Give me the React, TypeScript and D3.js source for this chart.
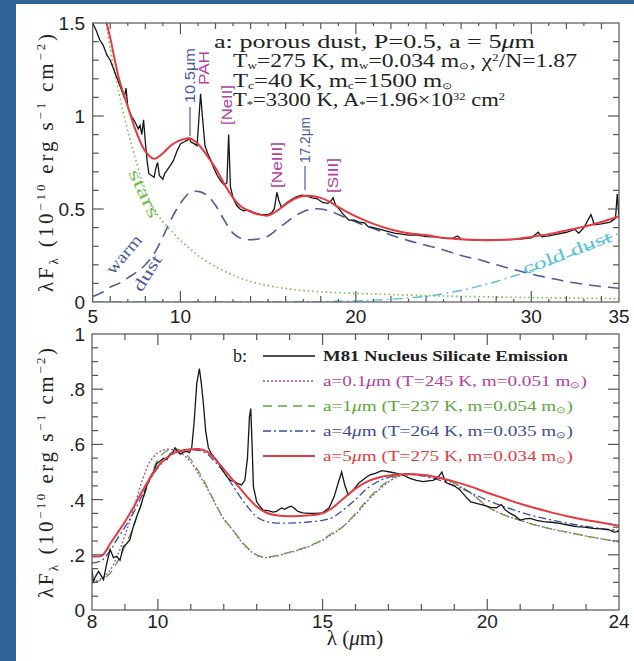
import React from 'react';
import * as d3 from 'd3';

// ---------- tick labels ----------
const topXTickValues = [5, 10, 20, 30, 35];
const topYTickValues = [0, 0.5, 1, 1.5];
const topYTickLabels = ['0', '0.5', '1', '1.5'];
const botXTickValues = [8, 10, 15, 20, 24];
const botYTickValues = [0, 0.2, 0.4, 0.6, 0.8, 1];
const botYTickLabels = ['0', '.2', '.4', '.6', '.8', '1'];

// ---------- panel a: observed spectrum ----------
const aObsLam = [5.0, 5.2, 5.4, 5.6, 5.8, 6.0, 6.2, 6.4, 6.6, 6.8, 6.9, 7.0, 7.2, 7.4, 7.6, 7.7, 7.8, 7.9, 8.0, 8.1, 8.2, 8.35, 8.5, 8.6, 8.7, 8.8, 9.0, 9.1, 9.25, 9.4, 9.6, 9.8, 10.0, 10.2, 10.4, 10.5, 10.6, 10.8, 10.95, 11.05, 11.15, 11.25, 11.4, 11.55, 11.7, 11.9, 12.1, 12.3, 12.5, 12.65, 12.75, 12.85, 13.0, 13.2, 13.4, 13.6, 13.8, 14.0, 14.2, 14.4, 14.6, 14.8, 15.0, 15.2, 15.35, 15.5, 15.6, 15.75, 16.0, 16.3, 16.6, 16.9, 17.2, 17.5, 17.8, 18.1, 18.4, 18.6, 18.7, 18.85, 19.0, 19.3, 19.6, 19.9, 20.2, 20.5, 20.7, 21.0, 21.4, 21.8, 22.2, 22.6, 23.0, 23.5, 24.0, 24.5, 25.0, 25.5, 25.8, 26.0, 26.5, 27.0, 27.5, 28.0, 28.5, 29.0, 29.5, 30.0, 30.4, 30.6, 31.0, 31.5, 32.0, 32.5, 32.7, 33.0, 33.4, 33.6, 34.0, 34.5, 34.8, 34.9, 35.0];
const aObsFlux = [1.5, 1.46, 1.41, 1.38, 1.33, 1.3, 1.25, 1.2, 1.15, 1.1, 1.15, 1.05, 1.0, 0.97, 0.93, 0.95, 0.9, 0.98, 0.86, 0.76, 0.69, 0.68, 0.67, 0.72, 0.75, 0.68, 0.66, 0.69, 0.71, 0.73, 0.76, 0.81, 0.85, 0.86, 0.87, 0.88, 0.86, 0.85, 0.84, 0.98, 1.12, 1.0, 0.84, 0.8, 0.77, 0.72, 0.68, 0.65, 0.63, 0.64, 0.9, 0.62, 0.56, 0.52, 0.5, 0.49, 0.495, 0.49, 0.48, 0.475, 0.47, 0.47, 0.47, 0.48, 0.5, 0.59, 0.55, 0.51, 0.53, 0.55, 0.565, 0.575, 0.57, 0.56, 0.555, 0.535, 0.53, 0.545, 0.56, 0.52, 0.505, 0.47, 0.44, 0.44, 0.43, 0.425, 0.405, 0.4, 0.39, 0.38, 0.37, 0.365, 0.36, 0.36, 0.352, 0.35, 0.343, 0.342, 0.355, 0.337, 0.335, 0.333, 0.333, 0.333, 0.335, 0.337, 0.34, 0.345, 0.375, 0.35, 0.355, 0.365, 0.375, 0.39, 0.37, 0.4, 0.47, 0.415, 0.42, 0.43, 0.45, 0.58, 0.46];

// ---------- panel a: total model ----------
const aFitLam = [5.0, 5.5, 5.8, 6.0, 6.5, 7.0, 7.5, 8.0, 8.5, 9.0, 9.5, 10.0, 10.5, 11.0, 11.5, 12.0, 12.5, 13.0, 13.5, 14.0, 14.5, 15.0, 15.5, 16.0, 16.5, 17.0, 17.5, 18.0, 18.5, 19.0, 19.5, 20.0, 21.0, 22.0, 23.0, 24.0, 25.0, 26.0, 27.0, 28.0, 29.0, 30.0, 31.0, 32.0, 33.0, 34.0, 35.0];
const aFitFlux = [1.95, 1.7, 1.5, 1.42, 1.2, 1.05, 0.91, 0.81, 0.77, 0.8, 0.845, 0.87, 0.88, 0.85, 0.79, 0.72, 0.635, 0.56, 0.51, 0.485, 0.47, 0.465, 0.49, 0.525, 0.555, 0.57, 0.57, 0.56, 0.54, 0.51, 0.485, 0.46, 0.42, 0.39, 0.37, 0.36, 0.345, 0.337, 0.333, 0.333, 0.337, 0.35, 0.365, 0.385, 0.405, 0.43, 0.46];

// ---------- panel a: stars ----------
const aStarLam = [5.0, 5.5, 6.0, 6.5, 7.0, 7.5, 8.0, 8.5, 9.0, 9.5, 10.0, 10.5, 11.0, 12.0, 13.0, 14.0, 15.0, 16.0, 17.0, 18.0, 20.0, 22.0, 25.0, 30.0, 35.0];
const aStarFlux = [2.0, 1.68, 1.36, 1.12, 0.92, 0.75, 0.6, 0.5, 0.43, 0.38, 0.33, 0.29, 0.25, 0.19, 0.145, 0.11, 0.088, 0.072, 0.062, 0.055, 0.046, 0.04, 0.032, 0.024, 0.018];

// ---------- panel a: warm dust ----------
const aWarmLam = [5.0, 5.5, 6.0, 6.5, 7.0, 7.5, 8.0, 8.5, 9.0, 9.5, 10.0, 10.5, 11.0, 11.5, 12.0, 12.5, 13.0, 13.5, 14.0, 14.5, 15.0, 15.5, 16.0, 16.5, 17.0, 17.5, 18.0, 18.5, 19.0, 20.0, 21.0, 22.0, 23.0, 24.0, 25.0, 26.0, 27.0, 28.0, 29.0, 30.0, 31.0, 32.0, 33.0, 34.0, 35.0];
const aWarmFlux = [0.03, 0.05, 0.08, 0.1, 0.13, 0.16, 0.2, 0.26, 0.35, 0.45, 0.53, 0.585, 0.595, 0.575, 0.52, 0.44, 0.37, 0.34, 0.335, 0.34, 0.355, 0.39, 0.425, 0.46, 0.485, 0.5, 0.5, 0.49, 0.47, 0.43, 0.395, 0.36, 0.33, 0.305, 0.28, 0.25, 0.228, 0.2, 0.175, 0.15, 0.13, 0.11, 0.095, 0.083, 0.074];

// ---------- panel a: cold dust ----------
const aColdLam = [5.0, 10.0, 15.0, 18.0, 19.0, 20.0, 21.0, 22.0, 23.0, 24.0, 25.0, 26.0, 27.0, 28.0, 29.0, 30.0, 31.0, 32.0, 33.0, 34.0, 35.0];
const aColdFlux = [0.0, 0.0, 0.001, 0.002, 0.004, 0.006, 0.01, 0.015, 0.022, 0.03, 0.045, 0.062, 0.085, 0.11, 0.14, 0.17, 0.2, 0.24, 0.28, 0.325, 0.37];

// ---------- panel b: observed ----------
const bObsLam = [8.0, 8.04, 8.1, 8.2, 8.3, 8.35, 8.45, 8.55, 8.65, 8.75, 8.85, 8.95, 9.05, 9.15, 9.25, 9.36, 9.46, 9.56, 9.66, 9.76, 9.86, 9.96, 10.07, 10.17, 10.27, 10.37, 10.45, 10.52, 10.6, 10.68, 10.78, 10.88, 10.96, 11.03, 11.1, 11.18, 11.26, 11.32, 11.38, 11.45, 11.53, 11.6, 11.7, 11.79, 11.9, 12.0, 12.09, 12.2, 12.3, 12.4, 12.54, 12.64, 12.72, 12.78, 12.82, 12.86, 12.9, 13.0, 13.1, 13.2, 13.35, 13.5, 13.6, 13.75, 13.85, 13.95, 14.05, 14.15, 14.25, 14.4, 14.6, 14.8, 15.0, 15.2, 15.35, 15.5, 15.58, 15.68, 15.78, 15.9, 16.1, 16.3, 16.44, 16.6, 16.8, 17.05, 17.25, 17.45, 17.65, 17.85, 18.06, 18.2, 18.36, 18.5, 18.62, 18.7, 18.77, 19.0, 19.17, 19.35, 19.5, 19.7, 19.88, 20.1, 20.28, 20.43, 20.55, 20.7, 20.85, 21.0, 21.15, 21.3, 21.5, 21.7, 21.95, 22.2, 22.45, 22.7, 22.95, 23.2, 23.45, 23.7, 23.85, 24.0];
const bObsFlux = [0.15, 0.1, 0.12, 0.14, 0.12, 0.11, 0.17, 0.22, 0.19, 0.195, 0.18, 0.23, 0.24, 0.255, 0.3, 0.34, 0.37, 0.41, 0.45, 0.48, 0.5, 0.53, 0.54, 0.55, 0.545, 0.565, 0.57, 0.588, 0.575, 0.565, 0.572, 0.575, 0.57, 0.59, 0.68, 0.82, 0.875, 0.82, 0.75, 0.65, 0.59, 0.57, 0.555, 0.543, 0.52, 0.5, 0.483, 0.47, 0.467, 0.46, 0.453, 0.47, 0.55, 0.7, 0.73, 0.6, 0.447, 0.392, 0.375, 0.362, 0.36, 0.355, 0.357, 0.37, 0.365, 0.372, 0.376, 0.368, 0.357, 0.352, 0.35, 0.35, 0.352, 0.37, 0.41, 0.47, 0.5, 0.45, 0.417, 0.43, 0.46, 0.478, 0.49, 0.495, 0.505, 0.5, 0.495, 0.489, 0.477, 0.47, 0.465, 0.468, 0.47, 0.48, 0.5, 0.475, 0.46, 0.45, 0.435, 0.41, 0.392, 0.385, 0.38, 0.372, 0.37, 0.382, 0.362, 0.35, 0.34, 0.326, 0.33, 0.332, 0.325, 0.32, 0.318, 0.314, 0.308, 0.302, 0.3, 0.296, 0.294, 0.29, 0.282, 0.285];

// ---------- panel b: models ----------
const bModelLam = [8.0, 8.3, 8.55, 8.75, 9.0, 9.25, 9.5, 9.75, 10.0, 10.25, 10.5, 10.75, 11.0, 11.25, 11.5, 11.75, 12.0, 12.25, 12.5, 12.75, 13.0, 13.25, 13.5, 14.0, 14.5, 15.0, 15.3, 15.6, 16.0, 16.4, 16.8, 17.2, 17.6, 18.0, 18.5, 19.0, 19.5, 20.0, 20.5, 21.0, 21.5, 22.0, 22.5, 23.0, 23.5, 24.0];
const bA01Flux = [0.1, 0.115, 0.145, 0.19, 0.27, 0.36, 0.46, 0.535, 0.57, 0.582, 0.58, 0.565, 0.535, 0.49, 0.44, 0.383, 0.33, 0.293, 0.253, 0.22, 0.198, 0.19, 0.193, 0.208, 0.226, 0.253, 0.275, 0.3, 0.345, 0.4, 0.445, 0.478, 0.49, 0.488, 0.48, 0.458, 0.423, 0.375, 0.345, 0.325, 0.307, 0.292, 0.28, 0.268, 0.257, 0.247];
const bA1Flux = [0.097, 0.11, 0.133, 0.17, 0.23, 0.3, 0.385, 0.47, 0.545, 0.575, 0.585, 0.575, 0.545, 0.5, 0.445, 0.385, 0.33, 0.295, 0.255, 0.222, 0.2, 0.192, 0.195, 0.21, 0.228, 0.255, 0.28, 0.3, 0.35, 0.405, 0.45, 0.483, 0.493, 0.49, 0.482, 0.46, 0.425, 0.375, 0.345, 0.325, 0.307, 0.292, 0.28, 0.268, 0.257, 0.247];
const bA4Flux = [0.17, 0.18, 0.215, 0.254, 0.3, 0.35, 0.41, 0.47, 0.515, 0.548, 0.568, 0.578, 0.58, 0.578, 0.565, 0.535, 0.5, 0.455, 0.41, 0.37, 0.338, 0.322, 0.316, 0.315, 0.318, 0.325, 0.335, 0.36, 0.4, 0.445, 0.472, 0.487, 0.492, 0.486, 0.472, 0.45, 0.425, 0.398, 0.375, 0.355, 0.338, 0.325, 0.313, 0.303, 0.295, 0.288];
const bA5Flux = [0.195, 0.197, 0.24, 0.275, 0.32, 0.37, 0.425, 0.475, 0.52, 0.55, 0.57, 0.578, 0.582, 0.583, 0.573, 0.545, 0.51, 0.475, 0.44, 0.405, 0.375, 0.355, 0.345, 0.34, 0.342, 0.35, 0.37, 0.4, 0.44, 0.468, 0.483, 0.49, 0.493, 0.49, 0.48, 0.465, 0.447, 0.425, 0.405, 0.385, 0.368, 0.352, 0.338, 0.326, 0.316, 0.305];

// ---------- styling ----------
const SERIF = '"Liberation Serif", "Times New Roman", serif';
const SANS = '"Liberation Sans", Arial, sans-serif';
const BG = '#2f6296';
const FRAME = '#555';
const RED = '#e63a40';
const BLACK = '#151515';
const GREEN = '#6cbf4a';
const SLATE = '#4d5c9c';
const CYAN = '#5cbfd6';
const MAGENTA = '#b2409f';
const LBLUE = '#4a5aa0';
const LGREEN = '#5aa83c';
const LNAVY = '#3b4c9e';

const W = 634;
const H = 661;

const xA = d3.scaleLinear().domain([5, 35]).range([92.7, 619]);
const yA = d3.scaleLinear().domain([0, 1.5]).range([302, 23]);
const xB = d3.scaleLinear().domain([8, 24]).range([92, 619]);
const yB = d3.scaleLinear().domain([0, 1]).range([610, 334]);

function path(xs: number[], ys: number[], xs_: any, ys_: any, smooth: boolean) {
  const pts = xs.map((x, i) => [x, ys[i]] as [number, number]);
  const gen = d3
    .line<[number, number]>()
    .x((d) => xs_(d[0]))
    .y((d) => ys_(d[1]))
    .curve(smooth ? d3.curveCatmullRom.alpha(0.5) : d3.curveLinear);
  return gen(pts) || '';
}

type TickSpec = { v: number; len: number };

function Frame(props: { x: any; y: any; xt: TickSpec[]; yt: TickSpec[] }) {
  const { x, y, xt, yt } = props;
  const [x0, x1] = x.range();
  const [y0, y1] = y.range();
  const lines: any[] = [];
  xt.forEach((t, i) => {
    const px = x(t.v);
    lines.push(<line key={'xb' + i} x1={px} x2={px} y1={y0} y2={y0 - t.len} />);
    lines.push(<line key={'xt' + i} x1={px} x2={px} y1={y1} y2={y1 + t.len} />);
  });
  yt.forEach((t, i) => {
    const py = y(t.v);
    lines.push(<line key={'yl' + i} x1={x0} x2={x0 + t.len} y1={py} y2={py} />);
    lines.push(<line key={'yr' + i} x1={x1} x2={x1 - t.len} y1={py} y2={py} />);
  });
  return (
    <g stroke={FRAME} strokeWidth={1.2} fill="none">
      <rect x={x0} y={y1} width={x1 - x0} height={y0 - y1} />
      {lines}
    </g>
  );
}

const topXTicks: TickSpec[] = d3.range(6, 35).map((v) => ({
  v,
  len: v % 10 === 0 ? 11 : v % 2 === 0 ? 6 : 3,
}));
const topYTicks: TickSpec[] = d3.range(1, 15).map((i) => ({ v: i / 10, len: i % 5 === 0 ? 11 : 6 }));
const botXTicks: TickSpec[] = d3.range(9, 24).map((v) => ({ v, len: v % 5 === 0 ? 11 : 6 }));
const botYTicks: TickSpec[] = d3.range(1, 20).map((i) => ({ v: i / 20, len: i % 4 === 0 ? 11 : 6 }));

function YLabel({ cx, cy, len }: { cx: number; cy: number; len: number }) {
  return (
    <text
      transform={`translate(${cx},${cy}) rotate(-90)`}
      textAnchor="middle"
      fontFamily={SERIF}
      fontSize={21}
      fill="#222"
      textLength={len}
      lengthAdjust="spacing"
    >
      λF<tspan dy={5} fontSize={13}>λ</tspan>
      <tspan dy={-5}> (10</tspan>
      <tspan dy={-8} fontSize={13}>−10</tspan>
      <tspan dy={8}> erg s</tspan>
      <tspan dy={-8} fontSize={13}>−1</tspan>
      <tspan dy={8}> cm</tspan>
      <tspan dy={-8} fontSize={13}>−2</tspan>
      <tspan dy={8}>)</tspan>
    </text>
  );
}

function VLabel(props: { x: number; y: number; len: number; color: string; children: any }) {
  return (
    <text
      transform={`translate(${props.x},${props.y}) rotate(-90)`}
      fontFamily={SANS}
      fontSize={14}
      fill={props.color}
      textLength={props.len}
      lengthAdjust="spacingAndGlyphs"
    >
      {props.children}
    </text>
  );
}

function Sun() {
  return <tspan dy={2} fontSize={9}>⊙</tspan>;
}

export default function App() {
  const legendRows = [
    { color: BLACK, dash: undefined, width: 1.4 },
    { color: MAGENTA, dash: '2,2', width: 1.3 },
    { color: LGREEN, dash: '9,6', width: 1.3 },
    { color: LNAVY, dash: '8,3,2,3', width: 1.3 },
    { color: RED, dash: undefined, width: 2 },
  ];
  const legendY = [356, 381, 406, 431, 456];

  return (
    <svg width={W} height={H} style={{ position: 'absolute', left: 0, top: 0 }} xmlns="http://www.w3.org/2000/svg">
      <defs>
        <clipPath id="clipA">
          <rect x={xA.range()[0]} y={yA.range()[1]} width={xA.range()[1] - xA.range()[0]} height={yA.range()[0] - yA.range()[1]} />
        </clipPath>
        <clipPath id="clipB">
          <rect x={xB.range()[0]} y={yB.range()[1]} width={xB.range()[1] - xB.range()[0]} height={yB.range()[0] - yB.range()[1]} />
        </clipPath>
      </defs>
      <rect x={0} y={0} width={W} height={H} fill={BG} />
      <rect x={16} y={4} width={W - 16} height={H - 4} fill="#fff" />

      {/* ---------------- panel a ---------------- */}
      <g clipPath="url(#clipA)" fill="none">
        <path d={path(aColdLam, aColdFlux, xA, yA, true)} stroke={CYAN} strokeWidth={1.4} strokeDasharray="10,4,2,4" />
        <path d={path(aStarLam, aStarFlux, xA, yA, true)} stroke={GREEN} strokeWidth={1.6} strokeDasharray="1.5,3" />
        <path d={path(aWarmLam, aWarmFlux, xA, yA, true)} stroke={SLATE} strokeWidth={1.6} strokeDasharray="12,7" />
        <path d={path(aObsLam, aObsFlux, xA, yA, false)} stroke={BLACK} strokeWidth={1.3} />
        <path d={path(aFitLam, aFitFlux, xA, yA, true)} stroke={RED} strokeWidth={2} />
      </g>
      <Frame x={xA} y={yA} xt={topXTicks} yt={topYTicks} />
      <g fontFamily={SANS} fontSize={19} fill="#222">
        {topXTickValues.map((v) => (
          <text key={'ax' + v} x={xA(v)} y={323} textAnchor="middle">{v}</text>
        ))}
        {topYTickValues.map((v, i) => (
          <text key={'ay' + v} x={85} y={yA(v) + 7} textAnchor="end">{topYTickLabels[i]}</text>
        ))}
      </g>
      <YLabel cx={53} cy={163} len={258} />

      {/* annotation block */}
      <g fontFamily={SERIF} fontSize={18} fill="#222">
        <text x={214} y={48} textLength={321} lengthAdjust="spacingAndGlyphs">
          a: porous dust, P=0.5, a = 5<tspan fontStyle="italic">μ</tspan>m
        </text>
        <text x={233} y={67} textLength={344} lengthAdjust="spacingAndGlyphs">
          T<tspan dy={2} fontSize={10}>w</tspan>
          <tspan dy={-2}>=275 K, m</tspan>
          <tspan dy={2} fontSize={10}>w</tspan>
          <tspan dy={-2}>=0.034 m</tspan>
          <Sun />
          <tspan dy={-2}>, χ</tspan>
          <tspan dy={-6} fontSize={10}>2</tspan>
          <tspan dy={6}>/N=1.87</tspan>
        </text>
        <text x={233} y={87} textLength={220} lengthAdjust="spacingAndGlyphs">
          T<tspan dy={2} fontSize={10}>c</tspan>
          <tspan dy={-2}>=40 K, m</tspan>
          <tspan dy={2} fontSize={10}>c</tspan>
          <tspan dy={-2}>=1500 m</tspan>
          <Sun />
        </text>
        <text x={233} y={106} textLength={272} lengthAdjust="spacingAndGlyphs">
          T<tspan dy={2} fontSize={10}>*</tspan>
          <tspan dy={-2}>=3300 K, A</tspan>
          <tspan dy={2} fontSize={10}>*</tspan>
          <tspan dy={-2}>=1.96×10</tspan>
          <tspan dy={-6} fontSize={10}>32</tspan>
          <tspan dy={6}> cm</tspan>
          <tspan dy={-6} fontSize={10}>2</tspan>
        </text>
      </g>

      {/* feature labels */}
      <VLabel x={195} y={103} len={55} color={LBLUE}>10.5μm</VLabel>
      <line x1={190} x2={190} y1={107} y2={136} stroke={LBLUE} strokeWidth={1.2} />
      <VLabel x={209} y={85} len={34} color={MAGENTA}>PAH</VLabel>
      <VLabel x={232} y={125} len={40} color={MAGENTA}>[NeII]</VLabel>
      <VLabel x={282} y={188} len={46} color={MAGENTA}>[NeIII]</VLabel>
      <VLabel x={310} y={163} len={46} color={LBLUE}>17.2μm</VLabel>
      <line x1={305} x2={305} y1={166} y2={190} stroke={LBLUE} strokeWidth={1.2} />
      <VLabel x={338} y={193} len={35} color={MAGENTA}>[SIII]</VLabel>

      <g fontFamily={SERIF} fontSize={17}>
        <text transform="translate(139,196) rotate(65)" textAnchor="middle" fill={GREEN} textLength={52} lengthAdjust="spacingAndGlyphs">stars</text>
        <text transform="translate(128,258) rotate(-50)" textAnchor="middle" fill={SLATE} textLength={46} lengthAdjust="spacingAndGlyphs">warm</text>
        <text transform="translate(152,276) rotate(-58)" textAnchor="middle" fill={SLATE} textLength={40} lengthAdjust="spacingAndGlyphs">dust</text>
        <text transform="translate(569,258) rotate(-21)" textAnchor="middle" fill={CYAN} textLength={94} lengthAdjust="spacingAndGlyphs">cold dust</text>
      </g>

      {/* ---------------- panel b ---------------- */}
      <g clipPath="url(#clipB)" fill="none">
        <path d={path(bModelLam, bA01Flux, xB, yB, true)} stroke={MAGENTA} strokeWidth={1.3} strokeDasharray="2,2" />
        <path d={path(bModelLam, bA1Flux, xB, yB, true)} stroke={LGREEN} strokeWidth={1.3} strokeDasharray="9,6" />
        <path d={path(bModelLam, bA4Flux, xB, yB, true)} stroke={LNAVY} strokeWidth={1.3} strokeDasharray="8,3,2,3" />
        <path d={path(bObsLam, bObsFlux, xB, yB, false)} stroke={BLACK} strokeWidth={1.3} />
        <path d={path(bModelLam, bA5Flux, xB, yB, true)} stroke={RED} strokeWidth={2} />
      </g>
      <Frame x={xB} y={yB} xt={botXTicks} yt={botYTicks} />
      <g fontFamily={SANS} fontSize={19} fill="#222">
        {botXTickValues.map((v) => (
          <text key={'bx' + v} x={xB(v)} y={628} textAnchor="middle">{v}</text>
        ))}
        {botYTickValues.map((v, i) => (
          <text key={'by' + v} x={85} y={yB(v) + 7} textAnchor="end">{botYTickLabels[i]}</text>
        ))}
      </g>
      <YLabel cx={53} cy={473} len={250} />
      <text x={355} y={645} textAnchor="middle" fontFamily={SERIF} fontSize={21} fill="#222">
        λ (<tspan fontStyle="italic">μ</tspan>m)
      </text>

      {/* legend */}
      <text x={233} y={362} fontFamily={SERIF} fontSize={18} fill="#222">b:</text>
      {legendRows.map((r, i) => (
        <line key={'lg' + i} x1={263} x2={315} y1={legendY[i]} y2={legendY[i]} stroke={r.color} strokeWidth={r.width} strokeDasharray={r.dash} />
      ))}
      <g fontFamily={SERIF} fontSize={15}>
        <text x={323} y={legendY[0] + 5} fill="#222" fontWeight="bold" textLength={245} lengthAdjust="spacingAndGlyphs">M81 Nucleus Silicate Emission</text>
        <text x={323} y={legendY[1] + 5} fill={MAGENTA} textLength={264} lengthAdjust="spacingAndGlyphs">
          a=0.1<tspan fontStyle="italic">μ</tspan>m  (T=245 K, m=0.051 m<Sun /><tspan dy={-2}>)</tspan>
        </text>
        <text x={323} y={legendY[2] + 5} fill={LGREEN} textLength={250} lengthAdjust="spacingAndGlyphs">
          a=1<tspan fontStyle="italic">μ</tspan>m  (T=237 K, m=0.054 m<Sun /><tspan dy={-2}>)</tspan>
        </text>
        <text x={323} y={legendY[3] + 5} fill={LNAVY} textLength={250} lengthAdjust="spacingAndGlyphs">
          a=4<tspan fontStyle="italic">μ</tspan>m  (T=264 K, m=0.035 m<Sun /><tspan dy={-2}>)</tspan>
        </text>
        <text x={323} y={legendY[4] + 5} fill={RED} textLength={250} lengthAdjust="spacingAndGlyphs">
          a=5<tspan fontStyle="italic">μ</tspan>m  (T=275 K, m=0.034 m<Sun /><tspan dy={-2}>)</tspan>
        </text>
      </g>
    </svg>
  );
}
